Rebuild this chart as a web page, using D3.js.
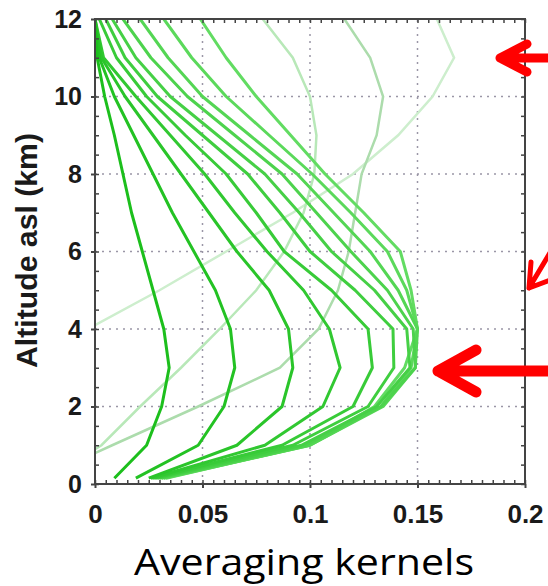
<!DOCTYPE html>
<html>
<head>
<meta charset="utf-8">
<script src="https://cdn.jsdelivr.net/npm/d3@7"></script>
<style>
  body { margin: 0; background: #fff; }
  svg { display: block; }
</style>
</head>
<body>
<div id="chart"></div>
<script>
// altitude levels (km) for the boundary-layer kernels
const altitudes = [0.15, 1, 2, 3, 4, 5, 6, 7, 8, 9, 10, 11, 12];

// averaging kernels (bright curves, inner -> outer)
const kernelA = [0.009, 0.024, 0.031, 0.0345, 0.032, 0.027, 0.022, 0.017, 0.013, 0.009, 0.0045, 0.001, 0];
const kernelB = [0.019, 0.048, 0.060, 0.065, 0.063, 0.056, 0.046, 0.036, 0.027, 0.018, 0.009, 0.002, 0];
const kernelC = [0.025, 0.066, 0.087, 0.092, 0.090, 0.081, 0.066, 0.053, 0.040, 0.027, 0.014, 0.003, 0];
const kernelD = [0.026, 0.079, 0.106, 0.114, 0.109, 0.097, 0.080, 0.065, 0.051, 0.035, 0.019, 0.004, 0];
const kernelE = [0.027, 0.087, 0.120, 0.129, 0.127, 0.110, 0.088, 0.075, 0.061, 0.042, 0.024, 0.010, 0.002];
const kernelF = [0.028, 0.092, 0.127, 0.139, 0.1386, 0.121, 0.100, 0.086, 0.071, 0.050, 0.029, 0.014, 0.005];
const kernelG = [0.029, 0.096, 0.131, 0.1465, 0.145, 0.130, 0.110, 0.095, 0.079, 0.057, 0.035, 0.019, 0.008];
const kernelH = [0.030, 0.098, 0.133, 0.149, 0.148, 0.136, 0.119, 0.103, 0.087, 0.065, 0.043, 0.026, 0.013];
const kernelI = [0.031, 0.100, 0.134, 0.149, 0.150, 0.141, 0.128, 0.111, 0.094, 0.072, 0.050, 0.034, 0.021];
const kernelJ = [0.032, 0.100, 0.133, 0.147, 0.150, 0.145, 0.136, 0.119, 0.101, 0.081, 0.061, 0.045, 0.032];
const kernelK = [0.033, 0.099, 0.130, 0.144, 0.150, 0.147, 0.142, 0.125, 0.107, 0.091, 0.075, 0.061, 0.049];

// upper-level kernels (pale curves)
const altL1 = [4.1, 5, 6, 7, 8, 9, 10, 11, 12];
const kernelL1 = [0, 0.030, 0.061, 0.092, 0.120, 0.141, 0.157, 0.167, 0.159];
const altL2 = [0.8, 1, 2, 3, 4, 5, 6, 7, 8, 9, 10, 11, 12];
const kernelL2 = [0, 0.008, 0.048, 0.086, 0.104, 0.113, 0.118, 0.121, 0.124, 0.131, 0.134, 0.128, 0.116];
const altL3 = [0.9, 1, 2, 3, 4, 5, 6, 7, 8, 9, 10, 11, 12];
const kernelL3 = [0, 0.003, 0.021, 0.040, 0.058, 0.075, 0.088, 0.097, 0.102, 0.103, 0.100, 0.092, 0.078];

const xTicks = [0, 0.05, 0.1, 0.15, 0.2];
const xTickLabels = ["0", "0.05", "0.1", "0.15", "0.2"];
const yTicks = [0, 2, 4, 6, 8, 10, 12];

const darkKernels = [kernelA, kernelB, kernelC, kernelD, kernelE, kernelF, kernelG, kernelH, kernelI, kernelJ, kernelK];
const paleKernels = [
  {alt: altL1, val: kernelL1, color: "#cdeecd"},
  {alt: altL2, val: kernelL2, color: "#acdcac"},
  {alt: altL3, val: kernelL3, color: "#b8e8b8"}
];

var margin = {top: 19, right: 23, bottom: 102, left: 95},
    width = 548,
    height = 586;

let svg = d3.select("#chart").append("svg")
  .attr("width", width).attr("height", height);

const xScale = d3.scaleLinear().domain([0, 0.2]).range([margin.left, width - margin.right]);
const yScale = d3.scaleLinear().domain([0, 12]).range([height - margin.bottom, margin.top]);

// dotted grid
svg.append("g").selectAll("line")
  .data(xTicks.slice(1, -1))
  .enter().append("line")
  .attr("x1", d => xScale(d)).attr("x2", d => xScale(d))
  .attr("y1", yScale(0)).attr("y2", yScale(12))
  .attr("stroke", "#9a96a6").attr("stroke-width", 1.5)
  .attr("stroke-dasharray", "2,5");
svg.append("g").selectAll("line")
  .data(yTicks.slice(1, -1))
  .enter().append("line")
  .attr("y1", d => yScale(d)).attr("y2", d => yScale(d))
  .attr("x1", xScale(0)).attr("x2", xScale(0.2))
  .attr("stroke", "#9a96a6").attr("stroke-width", 1.5)
  .attr("stroke-dasharray", "2,5");

svg.append("clipPath").attr("id", "plot")
  .append("rect")
  .attr("x", xScale(0)).attr("y", yScale(12))
  .attr("width", xScale(0.2) - xScale(0)).attr("height", yScale(0) - yScale(12));

const line = d3.line()
  .x(d => xScale(d[1]))
  .y(d => yScale(d[0]));

const curves = svg.append("g").attr("clip-path", "url(#plot)");

// pale upper-level kernels first
paleKernels.forEach(k => {
  curves.append("path")
    .datum(k.alt.map((a, i) => [a, k.val[i]]))
    .attr("d", line)
    .attr("fill", "none")
    .attr("stroke", k.color)
    .attr("stroke-width", 2.5);
});

// bright kernels, outer ones a bit paler
darkKernels.slice().reverse().forEach((k, j) => {
  const i = darkKernels.length - 1 - j;
  curves.append("path")
    .datum(altitudes.map((a, n) => [a, k[n]]))
    .attr("d", line)
    .attr("fill", "none")
    .attr("stroke", d3.interpolateRgb("#1cbf1c", "#62dc62")(i / (darkKernels.length - 1)))
    .attr("stroke-width", 3)
    .attr("stroke-linejoin", "round");
});

// axes: minor ticks all round, labels left and bottom
const axisColor = "#444";
function styleAxis(g) {
  g.select(".domain").remove();
  g.selectAll(".tick line").attr("stroke", axisColor).attr("stroke-width", 1.5);
}
const xMinor = d3.range(0, 0.2001, 0.005);
const yMinor = d3.range(0, 12.001, 0.5);

svg.append("g").attr("transform", `translate(0,${yScale(0)})`)
  .call(d3.axisBottom(xScale).tickValues(xMinor).tickFormat("").tickSize(-4)).call(styleAxis);
svg.append("g").attr("transform", `translate(0,${yScale(12)})`)
  .call(d3.axisTop(xScale).tickValues(xMinor).tickFormat("").tickSize(-4)).call(styleAxis);
svg.append("g").attr("transform", `translate(${xScale(0)},0)`)
  .call(d3.axisLeft(yScale).tickValues(yMinor).tickFormat("").tickSize(-4)).call(styleAxis);
svg.append("g").attr("transform", `translate(${xScale(0.2)},0)`)
  .call(d3.axisRight(yScale).tickValues(yMinor).tickFormat("").tickSize(-4)).call(styleAxis);

svg.append("rect")
  .attr("x", xScale(0)).attr("y", yScale(12))
  .attr("width", xScale(0.2) - xScale(0)).attr("height", yScale(0) - yScale(12))
  .attr("fill", "none").attr("stroke", axisColor).attr("stroke-width", 2);

const xAxis = svg.append("g")
  .attr("transform", `translate(0,${yScale(0)})`)
  .call(d3.axisBottom(xScale).tickValues(xTicks).tickFormat((d, i) => xTickLabels[i]).tickSize(4).tickPadding(17));
xAxis.select(".domain").remove();
xAxis.selectAll(".tick line").attr("stroke", axisColor).attr("stroke-width", 2);
xAxis.selectAll("text")
  .attr("fill", "#1a1a1a")
  .style("font-family", "'Liberation Sans', Arial, sans-serif")
  .style("font-weight", "bold")
  .style("font-size", "26px");

const yAxis = svg.append("g")
  .attr("transform", `translate(${xScale(0)},0)`)
  .call(d3.axisLeft(yScale).tickValues(yTicks).tickSize(4).tickPadding(9));
yAxis.select(".domain").remove();
yAxis.selectAll(".tick line").attr("stroke", axisColor).attr("stroke-width", 2);
yAxis.selectAll("text")
  .attr("fill", "#1a1a1a")
  .style("font-family", "'Liberation Sans', Arial, sans-serif")
  .style("font-weight", "bold")
  .style("font-size", "25px");

// axis titles
svg.append("text")
  .attr("transform", `translate(37,${(yScale(0) + yScale(12)) / 2 - 1}) rotate(-90)`)
  .attr("text-anchor", "middle")
  .attr("fill", "#1a1a1a")
  .attr("textLength", 235)
  .attr("lengthAdjust", "spacingAndGlyphs")
  .style("font-family", "'Liberation Sans', Arial, sans-serif")
  .style("font-weight", "bold")
  .style("font-size", "29px")
  .text("Altitude asl (km)");

svg.append("text")
  .attr("x", 304).attr("y", 575)
  .attr("text-anchor", "middle")
  .attr("fill", "#000")
  .attr("textLength", 340)
  .attr("lengthAdjust", "spacingAndGlyphs")
  .style("font-family", "'Open Sans', 'Noto Sans', sans-serif")
  .style("font-size", "36px")
  .text("Averaging kernels");

// red arrows
const arrows = svg.append("g")
  .attr("stroke", "#ff0000").attr("fill", "none")
  .attr("stroke-linecap", "round").attr("stroke-linejoin", "round");
arrows.append("path").attr("stroke-width", 9)
  .attr("d", "M560,58 L500,58 M527,44 L500,58 L527,72");
arrows.append("path").attr("stroke-width", 5)
  .attr("d", "M560,236 L529,288 M531,262 L529,288 L553,279");
arrows.append("path").attr("stroke-width", 11)
  .attr("d", "M560,371 L438,371 M476,350 L438,371 L476,392");
</script>
</body>
</html>
